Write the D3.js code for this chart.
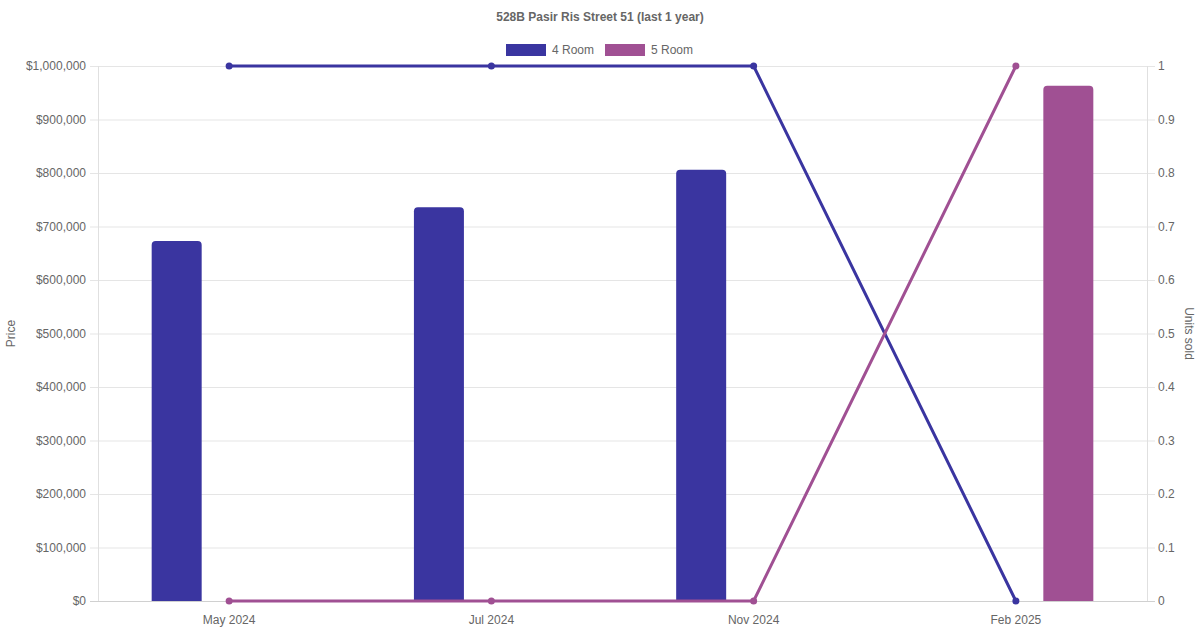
<!DOCTYPE html>
<html><head><meta charset="utf-8">
<script src="https://cdn.jsdelivr.net/npm/d3@7"></script>
<style>body{margin:0;background:#fff;}svg{display:block;font-family:"Liberation Sans",Arial,Helvetica,sans-serif;}</style>
</head><body><svg id="c" width="1200" height="630"></svg>
<script>
const categories = ["May 2024","Jul 2024","Nov 2024","Feb 2025"];
const seriesNames = ["4 Room","5 Room"];
const colors = ["#3A35A0","#A05093"];
const price4 = [673000, 736000, 806000, null];
const price5 = [null, null, null, 963000];
const units4 = [1, 1, 1, 0];
const units5 = [0, 0, 0, 1];
const priceTicks = [0,100000,200000,300000,400000,500000,600000,700000,800000,900000,1000000];
const unitTicks = [0,0.1,0.2,0.3,0.4,0.5,0.6,0.7,0.8,0.9,1];

const svg = d3.select("#c");
const L = 98, R = 1147, T = 66, B = 601;
const x = d3.scaleBand().domain(categories).range([L, R]);
const xs = d3.scaleBand().domain(seriesNames).range([0, x.bandwidth()]).paddingOuter(0.25);
const yP = d3.scaleLinear().domain([0, 1000000]).range([B, T]);
const yU = d3.scaleLinear().domain([0, 1]).range([B, T]);
const txt = "#666";

// grid
svg.append("g").selectAll("line").data(priceTicks).join("line")
  .attr("x1", L-8).attr("x2", R+8).attr("y1", d=>yP(d)+0.5).attr("y2", d=>yP(d)+0.5)
  .attr("stroke", (d)=> d===0 ? "#d0d0d0" : "#e5e5e5").attr("stroke-width",1);
svg.append("line").attr("x1",L+0.5).attr("x2",L+0.5).attr("y1",T).attr("y2",B).attr("stroke","#e0e0e0");
svg.append("line").attr("x1",R+0.5).attr("x2",R+0.5).attr("y1",T).attr("y2",B).attr("stroke","#e0e0e0");

// left axis labels
svg.append("g").selectAll("text").data(priceTicks).join("text")
  .attr("x", L-12).attr("y", d=>yP(d)).attr("dy","0.35em").attr("text-anchor","end")
  .attr("font-size",12).attr("fill",txt).text(d=>"$"+d3.format(",")(d));
// right axis labels
svg.append("g").selectAll("text").data(unitTicks).join("text")
  .attr("x", R+11).attr("y", d=>yU(d)).attr("dy","0.35em").attr("text-anchor","start")
  .attr("font-size",12).attr("fill",txt).text(d=>d3.format("")(d));
// x labels
svg.append("g").selectAll("text").data(categories).join("text")
  .attr("x", d=>x(d)+x.bandwidth()/2).attr("y", B+23).attr("text-anchor","middle")
  .attr("font-size",12).attr("fill",txt).text(d=>d);

// axis titles
svg.append("text").attr("transform",`translate(15,${(T+B)/2}) rotate(-90)`).attr("text-anchor","middle")
  .attr("font-size",12).attr("fill",txt).text("Price");
svg.append("text").attr("transform",`translate(1185,${(T+B)/2}) rotate(90)`).attr("text-anchor","middle")
  .attr("font-size",12).attr("fill",txt).text("Units sold");

// title
svg.append("text").attr("x",600).attr("y",21).attr("text-anchor","middle").attr("font-size",12)
  .attr("font-weight","bold").attr("fill",txt).text("528B Pasir Ris Street 51 (last 1 year)");

// legend
const leg = [{n:seriesNames[0],c:colors[0],x:506},{n:seriesNames[1],c:colors[1],x:605}];
leg.forEach(l=>{
  svg.append("rect").attr("x",l.x).attr("y",44).attr("width",40).attr("height",12).attr("fill",l.c);
  svg.append("text").attr("x",l.x+46).attr("y",50).attr("dy","0.35em").attr("font-size",12).attr("fill",txt).text(l.n);
});

// bars
const barW = 50;
function barPath(x0, y0, w, h, r){
  r = Math.min(r, h, w/2);
  return `M${x0},${y0+h}V${y0+r}Q${x0},${y0} ${x0+r},${y0}H${x0+w-r}Q${x0+w},${y0} ${x0+w},${y0+r}V${y0+h}Z`;
}
[price4, price5].forEach((arr, si)=>{
  svg.append("g").selectAll("path").data(categories.map((c,i)=>({c,v:arr[i]})).filter(d=>d.v!=null)).join("path")
    .attr("fill", colors[si])
    .attr("d", d=>{
      const cx = x(d.c) + xs(seriesNames[si]) + xs.bandwidth()/2;
      return barPath(cx-barW/2, yP(d.v), barW, B-yP(d.v), 4);
    });
});

// lines
[units4, units5].forEach((arr, si)=>{
  const pts = categories.map((c,i)=>[x(c)+x.bandwidth()/2, yU(arr[i])]);
  svg.append("path").attr("d", d3.line()(pts)).attr("fill","none").attr("stroke",colors[si]).attr("stroke-width",3);
  svg.append("g").selectAll("circle").data(pts).join("circle")
    .attr("cx",d=>d[0]).attr("cy",d=>d[1]).attr("r",3.5).attr("fill",colors[si]);
});
</script></body></html>
